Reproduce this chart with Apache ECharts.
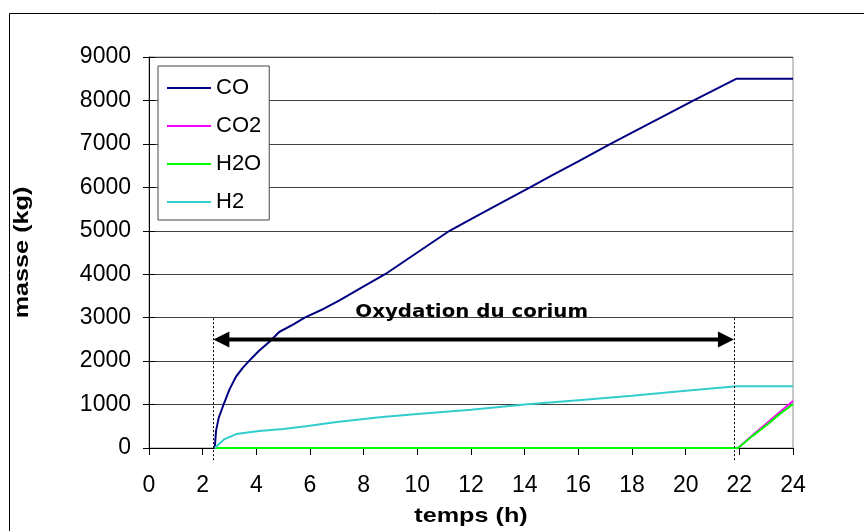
<!DOCTYPE html>
<html><head><meta charset="utf-8">
<script src="https://cdn.jsdelivr.net/npm/echarts@6/dist/echarts.min.js"></script>
<style>html,body{margin:0;padding:0;background:#fff}#c{width:864px;height:531px}</style>
</head><body><div id="c"></div>
<script>
// ---- data ----
const coT  = [2.45, 2.5, 2.6, 2.75, 3.0, 3.25, 3.5, 3.8, 4.1, 4.5, 4.85, 5.4, 5.8, 6.5, 7.1, 8.0, 8.8, 10.0, 11.2, 12.0, 13.0, 14.2, 15.0, 16.0, 17.2, 18.0, 19.0, 20.3, 21.0, 21.9, 24];
const coV  = [0, 400, 700, 950, 1350, 1650, 1850, 2050, 2240, 2450, 2670, 2850, 3000, 3200, 3400, 3720, 4000, 4500, 5000, 5270, 5600, 6000, 6270, 6600, 7000, 7260, 7580, 8000, 8220, 8500, 8500];
const h2T  = [2.45, 2.8, 3.25, 4.1, 5.0, 5.85, 7.0, 8.6, 10, 12, 14, 16, 18, 20, 21.9, 24];
const h2V  = [0, 200, 320, 390, 440, 500, 600, 710, 780, 880, 1000, 1100, 1200, 1320, 1420, 1420];
const gasT = [2.45, 21.95, 22.5, 23, 23.5, 24];
const co2V = [0, 0, 300, 560, 820, 1080];
const h2oV = [0, 0, 280, 520, 780, 1010];
const seriesNames = ['CO', 'CO2', 'H2O', 'H2'];
const xTicks = {min: 0, max: 24, interval: 2};
const yTicks = {min: 0, max: 9000, interval: 1000};
const xTitle = 'temps (h)', yTitle = 'masse (kg)';
const oxStart = 2.4, oxEnd = 21.8, arrowY = 2500, dottedTop = 3000, dottedBottom = -280, textY = 3130;
const annotationText = 'Oxydation du corium';

const zip = (t, v) => t.map((x, i) => [x, v[i]]);
const colors = ['#000080', '#FF00FF', '#00FF00', '#33CCCC'];
const chart = echarts.init(document.getElementById('c'), null, {renderer: 'canvas'});
const font = 'Liberation Sans, Arial, sans-serif';
const lineS = (i, t, v) => ({name: seriesNames[i], type: 'line', data: zip(t, v), symbol: 'none',
  lineStyle: {color: colors[i], width: 2}, itemStyle: {color: colors[i]}});
chart.setOption({
  animation: false,
  backgroundColor: '#fff',
  textStyle: {fontFamily: font},
  grid: {left: 149, right: 71, top: 57, bottom: 83, show: true, borderColor: '#909090', borderWidth: 1},
  legend: {
    left: 158, top: 66, orient: 'vertical',
    data: seriesNames,
    icon: 'rect', itemWidth: 44, itemHeight: 2, itemGap: 16,
    padding: [11, 8, 7, 9],
    backgroundColor: '#fff', borderColor: '#444', borderWidth: 1,
    textStyle: {fontSize: 22, color: '#000', fontFamily: font, lineHeight: 22}
  },
  xAxis: {
    type: 'value', min: xTicks.min, max: xTicks.max, interval: xTicks.interval,
    axisLine: {show: true, onZero: false, lineStyle: {color: '#000', width: 1}},
    axisTick: {show: true, length: 7, lineStyle: {color: '#000'}},
    axisLabel: {fontSize: 23, color: '#000', margin: 26, fontFamily: font},
    splitLine: {show: false}
  },
  yAxis: [{
    type: 'value', min: yTicks.min, max: yTicks.max, interval: yTicks.interval,
    axisLine: {show: true, lineStyle: {color: '#000', width: 1}},
    axisTick: {show: true, length: 6, lineStyle: {color: '#000'}},
    axisLabel: {fontSize: 23, color: '#000', margin: 18, fontFamily: font, formatter: v => String(v)},
    splitLine: {show: true, lineStyle: {color: '#404040', width: 1}}
  }, {
    type: 'value', min: yTicks.min, max: yTicks.max, interval: yTicks.interval, position: 'left', offset: 0,
    axisLine: {show: false},
    axisTick: {show: true, inside: true, length: 6, lineStyle: {color: '#000'}},
    axisLabel: {show: false}, splitLine: {show: false}
  }],
  series: [
    lineS(0, coT, coV),
    lineS(1, gasT, co2V),
    lineS(2, gasT, h2oV),
    lineS(3, h2T, h2V)
  ]
});

const px = (x, y) => chart.convertToPixel({gridIndex: 0}, [x, y]);
const a0 = px(oxStart, arrowY), a1 = px(oxEnd, arrowY);
const d0b = px(oxStart, dottedBottom), d0t = px(oxStart, dottedTop);
const d1b = px(oxEnd, dottedBottom), d1t = px(oxEnd, dottedTop);
const g0 = px(xTicks.min, yTicks.min), g1 = px(xTicks.max, yTicks.max);
const headL = 16, headW = 8;
chart.setOption({
  graphic: [
    {type: 'rect', silent: true, shape: {x: 9.5, y: 13.5, width: 1000, height: 1000}, style: {fill: 'none', stroke: '#000', lineWidth: 1}, z: 100},
    {type: 'line', silent: true, shape: {x1: Math.round(d0b[0]) + 0.5, y1: d0b[1], x2: Math.round(d0t[0]) + 0.5, y2: d0t[1]}, style: {stroke: '#000', lineWidth: 1, lineDash: [2, 2]}, z: 100},
    {type: 'line', silent: true, shape: {x1: Math.round(d1b[0]) + 0.5, y1: d1b[1], x2: Math.round(d1t[0]) + 0.5, y2: d1t[1]}, style: {stroke: '#000', lineWidth: 1, lineDash: [2, 2]}, z: 100},
    {type: 'line', silent: true, shape: {x1: a0[0] + headL - 2, y1: a0[1], x2: a1[0] - headL + 2, y2: a1[1]}, style: {stroke: '#000', lineWidth: 4}, z: 100},
    {type: 'polygon', silent: true, shape: {points: [[a0[0], a0[1]], [a0[0] + headL, a0[1] - headW], [a0[0] + headL, a0[1] + headW]]}, style: {fill: '#000'}, z: 100},
    {type: 'polygon', silent: true, shape: {points: [[a1[0], a1[1]], [a1[0] - headL, a1[1] - headW], [a1[0] - headL, a1[1] + headW]]}, style: {fill: '#000'}, z: 100},
    {type: 'text', silent: true, x: (a0[0] + a1[0]) / 2 - 2, y: px(0, textY)[1], scaleX: 1.1, style: {text: annotationText, fontSize: 18, fontWeight: 'bold', fontFamily: 'DejaVu Sans, Verdana, sans-serif', fill: '#000', align: 'center', verticalAlign: 'middle'}, z: 100},
    {type: 'text', silent: true, x: (g0[0] + g1[0]) / 2, y: 516, scaleX: 1.2, style: {text: xTitle, fontSize: 21, fontWeight: 'bold', fontFamily: font, fill: '#000', align: 'center', verticalAlign: 'middle'}, z: 100},
    {type: 'text', silent: true, x: 22, y: (g0[1] + g1[1]) / 2, rotation: Math.PI / 2, scaleX: 1.2, style: {text: yTitle, fontSize: 21, fontWeight: 'bold', fontFamily: font, fill: '#000', align: 'center', verticalAlign: 'middle'}, z: 100}
  ]
});
</script></body></html>
